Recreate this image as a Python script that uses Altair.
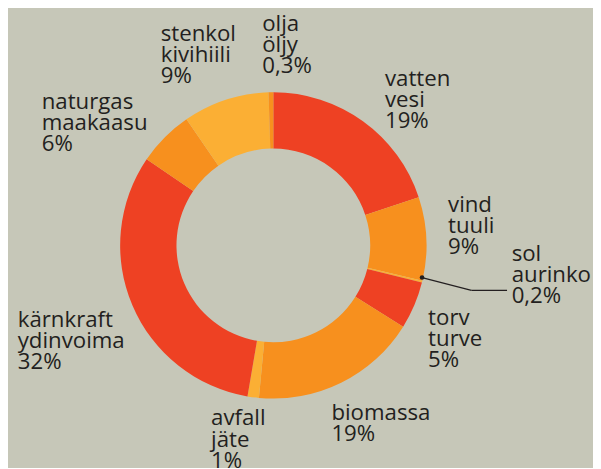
import altair as alt
import pandas as pd

# ---- data ----
names = ["vatten", "vind", "sol", "torv", "biomassa", "avfall",
         "kärnkraft", "naturgas", "stenkol", "olja"]
names_fi = ["vesi", "tuuli", "aurinko", "turve", "", "jäte",
            "ydinvoima", "maakaasu", "kivihiili", "öljy"]
pct_text = ["19%", "9%", "0,2%", "5%", "19%", "1%", "32%", "6%", "9%", "0,3%"]
values = [19.9, 8.8, 0.2, 5.0, 17.6, 1.2, 31.8, 5.9, 9.1, 0.5]

RED, ORANGE, YELLOW = "#EE4123", "#F7901E", "#FBAF34"
colors = [RED, ORANGE, YELLOW, RED, ORANGE, YELLOW, RED, ORANGE, YELLOW, ORANGE]

BG = "#C6C7B8"
INK = "#231F20"
FONT = "Open Sans"

labels = ["\n".join(p for p in (n, f, c) if p)
          for n, f, c in zip(names, names_fi, pct_text)]

df = pd.DataFrame({
    "name": names,
    "value": values,
    "label": labels,
    "order": list(range(len(names))),
})

# label nudges (layout only), relative to the slice-midpoint anchor
nudge = {
    "vatten": (-7, 5), "vind": (-28, -25), "sol": (42, -33), "torv": (-32, 0),
    "biomassa": (-32, -7), "avfall": (-36, -21), "kärnkraft": (-70, 2),
    "naturgas": (-89, 6), "stenkol": (-50, -12), "olja": (-8, -12),
}

base = alt.Chart(df).encode(
    theta=alt.Theta("value:Q", stack=True),
    order=alt.Order("order:Q"),
)

arcs = base.mark_arc(innerRadius=98, outerRadius=155).encode(
    color=alt.Color("name:N", scale=alt.Scale(domain=names, range=colors), legend=None)
)

layers = [arcs]
for n in names:
    dx, dy = nudge[n]
    t = base.transform_calculate(
        t=f"datum.name === '{n}' ? datum.label : ''"
    ).mark_text(
        radius=205, align="left", baseline="alphabetic", dx=dx, dy=dy,
        font=FONT, fontSize=22.5, fontWeight=500,
        lineHeight=21.3, lineBreak="\n", color=INK,
    ).encode(text="t:N")
    layers.append(t)

# leader line for "sol"
leader1 = alt.Chart(df).mark_rule(color=INK, strokeWidth=1.3).encode(
    x=alt.value(419), y=alt.value(255), x2=alt.value(469), y2=alt.value(268)
).transform_filter("datum.order === 0")
leader2 = alt.Chart(df).mark_rule(color=INK, strokeWidth=1.3).encode(
    x=alt.value(469), y=alt.value(268), x2=alt.value(505), y2=alt.value(268)
).transform_filter("datum.order === 0")
dot = alt.Chart(df).mark_circle(size=22, color=INK, opacity=1).encode(
    x=alt.value(419), y=alt.value(255)
).transform_filter("datum.order === 0")

layers += [leader1, leader2, dot]

chart = alt.layer(*layers).properties(
    width=537, height=445,
    padding={"left": 0, "top": 15, "right": 55, "bottom": 0},
    autosize=alt.AutoSizeParams(type="none"),
    background=BG,
).configure_view(stroke=None)

chart.save("out.html", embed_options={"renderer": "svg", "actions": False})
